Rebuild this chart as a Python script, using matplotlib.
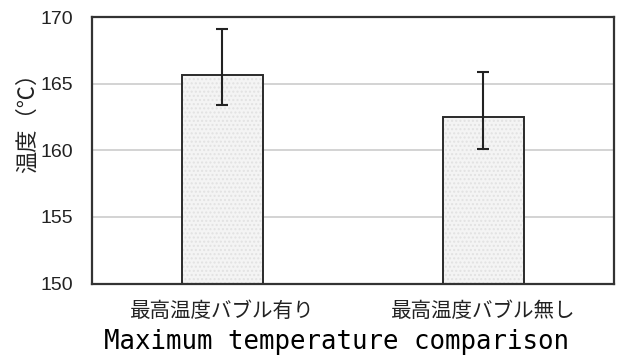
import matplotlib
matplotlib.use("Agg")
import matplotlib.pyplot as plt

# max temperature with / without bubble
labels = ["最高温度バブル有り", "最高温度バブル無し"]
means = [165.7, 162.5]
err_low = [2.3, 2.4]
err_high = [3.4, 3.4]
yticks = [150, 155, 160, 165, 170]

fig = plt.figure(figsize=(6.22, 3.58), dpi=100)
ax = fig.add_axes([0.1474, 0.2081, 0.8396, 0.7436])

x = range(len(labels))

ax.set_axisbelow(True)
ax.yaxis.grid(True, color="#c8c8c8", linewidth=1.1)

# textured fill, then outline + error bars on top
ax.bar(x, [m - 150 for m in means], bottom=150, width=0.31,
       facecolor="#f4f4f4", edgecolor="#e2e2e2", hatch="....", linewidth=0)
ax.bar(x, [m - 150 for m in means], bottom=150, width=0.31,
       fill=False, edgecolor="#2a2a2a", linewidth=1.4,
       yerr=[err_low, err_high],
       error_kw=dict(ecolor="#222222", elinewidth=1.5, capsize=4.6, capthick=1.5))

ax.set_xlim(-0.5, 1.5)
ax.set_ylim(150, 170)
ax.set_yticks(yticks)
ax.set_xticks(list(x))
ax.set_xticklabels(labels, family=["Noto Sans CJK JP", "DejaVu Sans"],
                   fontsize=14.8, color="#222222")
ax.set_yticklabels([str(t) for t in yticks], family="Liberation Sans",
                   fontsize=14, color="#222222")
ax.tick_params(axis="y", length=0, pad=13.5)
ax.tick_params(axis="x", length=0, pad=12)

for s in ax.spines.values():
    s.set_color("#333333")
    s.set_linewidth(1.6)

fig.text(27 / 622, 1 - 117 / 358, "温度（℃）", rotation=90,
         family=["Noto Sans CJK JP", "DejaVu Sans"], fontsize=16,
         color="#222222", ha="center", va="center")

fig.text(336 / 622, 1 - 349 / 358, "Maximum temperature comparison",
         family="DejaVu Sans Mono", fontsize=18.5, color="black",
         ha="center", va="baseline")

fig.savefig("out.png", dpi=100)
